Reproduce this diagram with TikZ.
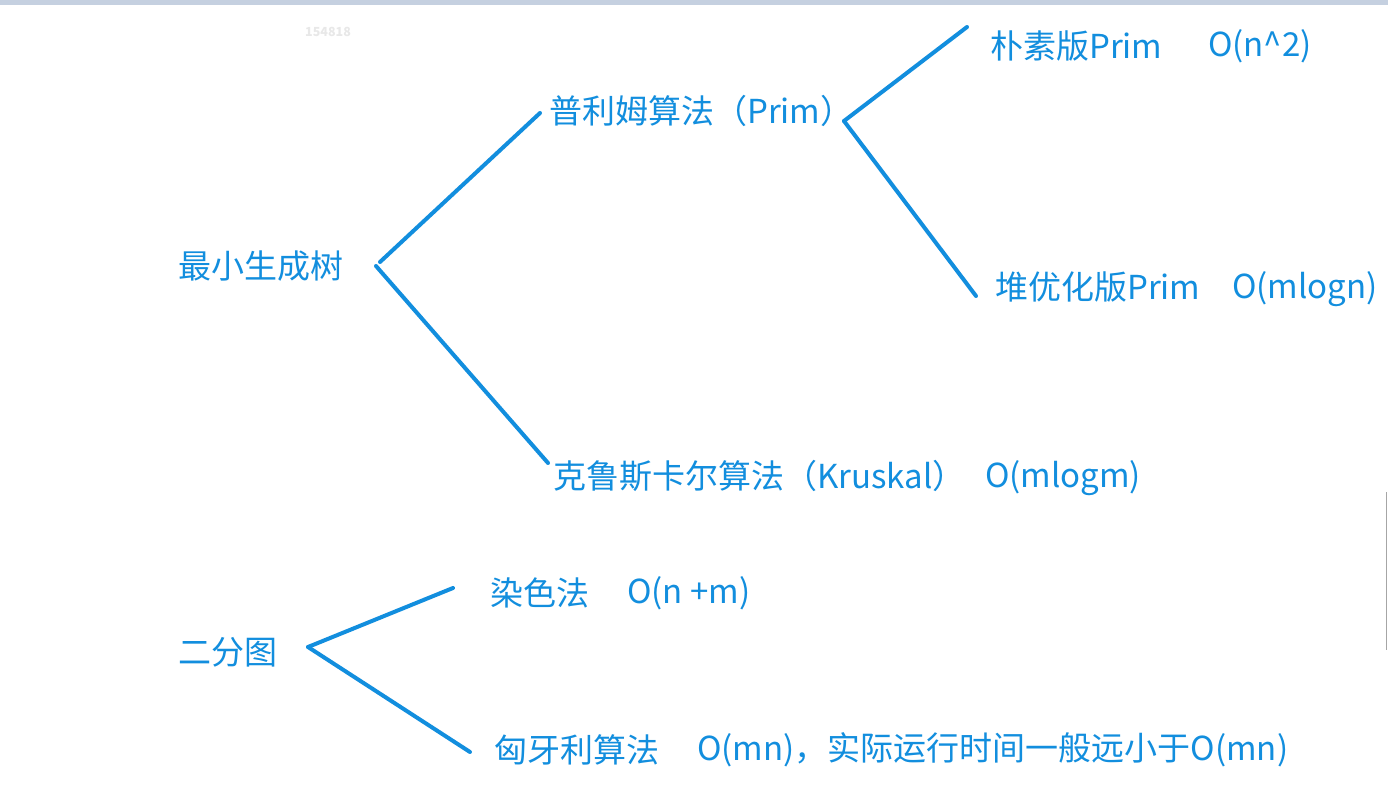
\documentclass[tikz,border=0pt]{standalone}
\usepackage{fontspec}
\setmainfont{Noto Sans CJK SC}
\definecolor{lblue}{RGB}{18,142,222}
\definecolor{topbar}{RGB}{197,208,224}
\definecolor{wm}{RGB}{232,232,232}
\begin{document}
\begin{tikzpicture}[x=1pt,y=-1pt,
  lbl/.style={anchor=west,inner sep=0pt,text=lblue,font=\fontsize{33}{33}\selectfont},
  edge/.style={draw=lblue,line width=4pt,line cap=round}]
\useasboundingbox (0,0) rectangle (1388,791);
\fill[white] (0,0) rectangle (1388,791);
\fill[topbar] (0,0) rectangle (1388,5);
\node[anchor=west,inner sep=0pt,text=wm,font=\fontsize{12.5}{12.5}\selectfont\bfseries] (wmk) at (305,32) {154818};
\draw[black!35,line width=1pt] (1386,492) -- (1386,650);
% nodes
\node[lbl] (mst) at (178,266) {最小生成树};
\node[lbl] (prim) at (549,111) {普利姆算法（Prim）};
\node[lbl] (naive) at (990,46) {朴素版Prim};
\node[lbl] (naivec) at (1208,46) {O(n\^{}2)};
\node[lbl] (heap) at (995,287) {堆优化版Prim};
\node[lbl] (heapc) at (1232,289) {O(mlogn)};
\node[lbl] (krus) at (553,476) {克鲁斯卡尔算法（Kruskal）};
\node[lbl] (krusc) at (985,478) {O(mlogm)};
\node[lbl] (bip) at (178,652) {二分图};
\node[lbl] (color) at (490,593) {染色法};
\node[lbl] (colorc) at (627,593) {O(n +m)};
\node[lbl] (hung) at (494,750) {匈牙利算法};
\node[lbl] (hungc) at (697,750) {O(mn)，实际运行时间一般远小于O(mn)};
% connector anchor points
\coordinate (mstA) at (380,262);
\coordinate (mstB) at (376,266);
\coordinate (primL) at (540,113);
\coordinate (krusL) at (548,463);
\coordinate (primR) at (844,121);
\coordinate (naiveL) at (967,27);
\coordinate (heapL) at (976,296);
\coordinate (bipR) at (308,647);
\coordinate (colorL) at (453,588);
\coordinate (hungL) at (470,752);
\draw[edge] (mstA) -- (primL);
\draw[edge] (mstB) -- (krusL);
\draw[edge] (primR) -- (naiveL);
\draw[edge] (primR) -- (heapL);
\draw[edge] (bipR) -- (colorL);
\draw[edge] (bipR) -- (hungL);
\end{tikzpicture}
\end{document}
